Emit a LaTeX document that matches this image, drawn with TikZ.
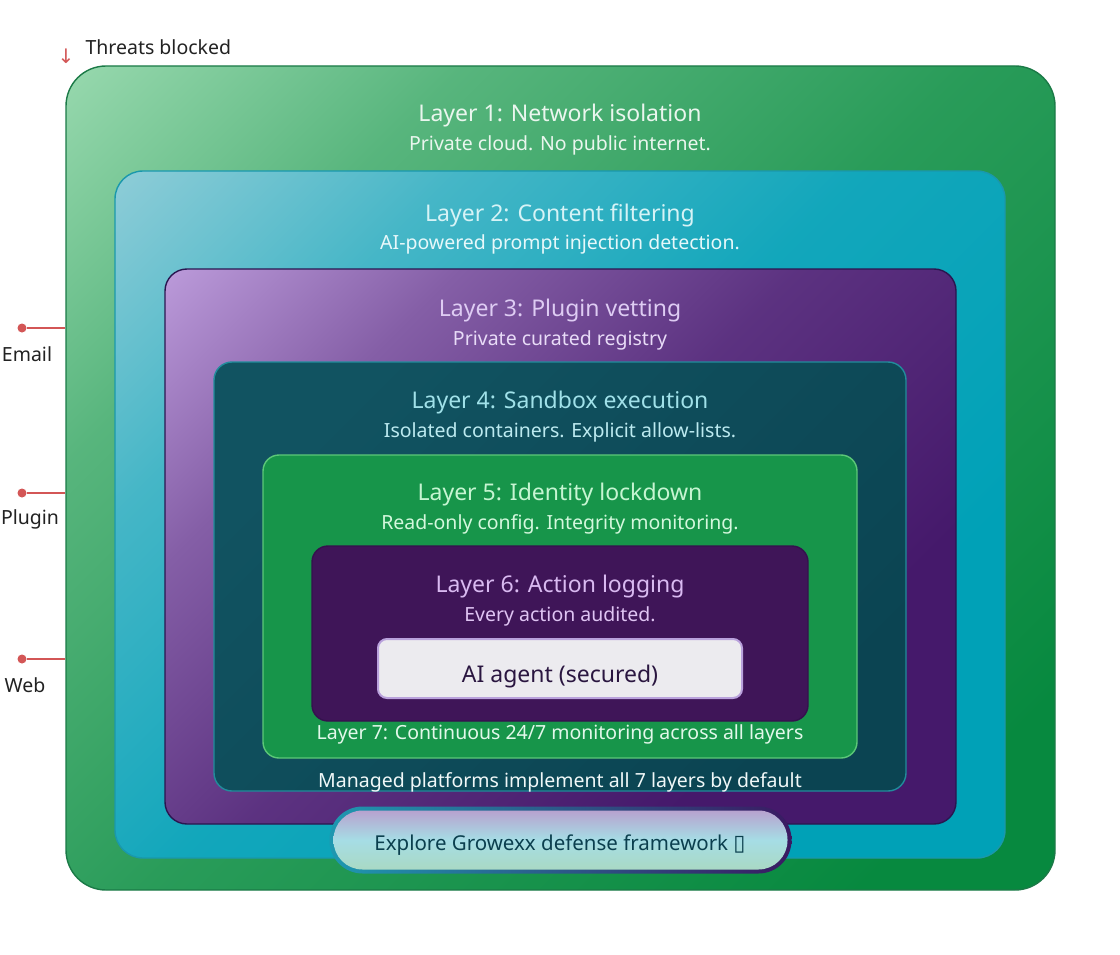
\documentclass[tikz,border=0pt]{standalone}
\usepackage{fontspec}
\setmainfont{Noto Sans}
\newfontfamily\symfont{DejaVu Sans}
\usetikzlibrary{shapes.misc}
\definecolor{lOneA}{HTML}{A2DEB6}
\definecolor{lOneB}{HTML}{07893F}
\definecolor{lOneD}{HTML}{1B7A47}
\definecolor{lTwoA}{HTML}{9AD0DA}
\definecolor{lTwoB}{HTML}{00A1B7}
\definecolor{lTwoD}{HTML}{1A98AC}
\definecolor{lThrA}{HTML}{C4A4E2}
\definecolor{lThrB}{HTML}{45196B}
\definecolor{lThrD}{HTML}{2A1650}
\definecolor{lFouA}{HTML}{115361}
\definecolor{lFouB}{HTML}{0B4452}
\definecolor{lFouD}{HTML}{218C9C}
\definecolor{lFivF}{HTML}{17954A}
\definecolor{lFivD}{HTML}{5CC878}
\definecolor{lSixF}{HTML}{3F1558}
\definecolor{lSixD}{HTML}{35114E}
\definecolor{agF}{HTML}{ECEBEF}
\definecolor{agD}{HTML}{B9A1DC}
\definecolor{agT}{HTML}{2A1640}
\definecolor{btTop}{HTML}{B7A2CF}
\definecolor{btMid}{HTML}{A6DDE5}
\definecolor{btBot}{HTML}{A9D9C4}
\definecolor{btL}{HTML}{1E98B0}
\definecolor{btR}{HTML}{3A1A62}
\definecolor{btT}{HTML}{0B3F4E}
\definecolor{redc}{HTML}{D35656}
\definecolor{darkT}{HTML}{222222}
\definecolor{tOne}{HTML}{EAF6EE}
\definecolor{tTwo}{HTML}{D6F3F6}
\definecolor{tThr}{HTML}{DECCF3}
\definecolor{tFou}{HTML}{A0E1E9}
\definecolor{tFiv}{HTML}{C6F5D2}
\definecolor{tSix}{HTML}{D9BAF1}
\definecolor{tSev}{HTML}{E2F8EA}
\definecolor{tMan}{HTML}{F0F8F8}
\pgfdeclareverticalshading{shOne}{100bp}{color(0bp)=(lOneB); color(22bp)=(lOneB); color(50bp)=(lOneB!78!lOneA); color(70bp)=(lOneB!48!lOneA); color(88bp)=(lOneA); color(100bp)=(lOneA)}
\pgfdeclareverticalshading{shTwo}{100bp}{color(0bp)=(lTwoB); color(30bp)=(lTwoB); color(52bp)=(lTwoB!88!lTwoA); color(70bp)=(lTwoB!55!lTwoA); color(88bp)=(lTwoA); color(100bp)=(lTwoA)}
\pgfdeclareverticalshading{shThr}{100bp}{color(0bp)=(lThrB); color(30bp)=(lThrB); color(52bp)=(lThrB!82!lThrA); color(70bp)=(lThrB!50!lThrA); color(88bp)=(lThrA); color(100bp)=(lThrA)}
\tikzset{
  layerbox/.style={rectangle, inner sep=0pt, line width=1.4pt},
  ttl/.style={font=\fontsize{23}{26}\selectfont},
  sub/.style={font=\fontsize{19.5}{22}\selectfont},
  side/.style={font=\fontsize{19.5}{22}\selectfont, text=darkT},
  reddot/.style={circle, fill=redc, inner sep=0pt, minimum size=9pt},
  redline/.style={draw=redc, line width=1.4pt},
}
\begin{document}
\begin{tikzpicture}[x=1pt,y=-1pt]
\useasboundingbox (0,0) rectangle (1120,955);
\fill[white] (0,0) rectangle (1120,955);
% layers
\node[layerbox, draw=lOneD, shading=shOne, shading angle=45,
  rounded corners=40pt, minimum width=989pt, minimum height=824pt] (L1) at (560.5,478) {};
\node[layerbox, draw=lTwoD, shading=shTwo, shading angle=45,
  rounded corners=28pt, minimum width=890pt, minimum height=687pt] (L2) at (560,514.5) {};
\node[layerbox, draw=lThrD, shading=shThr, shading angle=45,
  rounded corners=22pt, minimum width=791pt, minimum height=555pt] (L3) at (560.5,546.5) {};
\node[layerbox, draw=lFouD, top color=lFouA, bottom color=lFouB, shading angle=45,
  rounded corners=18pt, minimum width=692pt, minimum height=429pt] (L4) at (560,576.5) {};
\node[layerbox, draw=lFivD, fill=lFivF,
  rounded corners=16pt, minimum width=594pt, minimum height=303pt] (L5) at (560,606.5) {};
\node[layerbox, draw=lSixD, fill=lSixF,
  rounded corners=16pt, minimum width=496pt, minimum height=175pt] (L6) at (560,633.5) {};
\node[layerbox, draw=agD, fill=agF, line width=2pt,
  rounded corners=9pt, minimum width=364pt, minimum height=59pt] (AG) at (560,668.5) {};
\node[font=\fontsize{23}{26}\selectfont, text=agT] (agt) at (560,677) {AI agent (secured)};
% button
\node[layerbox, left color=btL, right color=btR,
  rounded corners=33pt, minimum width=462pt, minimum height=67pt] (BT) at (560.5,840) {};
\node[layerbox, top color=btTop, bottom color=btBot, middle color=btMid,
  rounded corners=29pt, minimum width=454pt, minimum height=59pt] (BTi) at (BT.center) {};
\node[font=\fontsize{20.5}{24}\selectfont, text=btT] (btt) at (560,845)
  {Explore Growexx defense framework {\symfont\fontsize{22}{24}\selectfont ▯}};
% titles
\node[ttl, text=tOne] (t1) at (560,116) {Layer 1: Network isolation};
\node[sub, text=tOne] (s1) at (560,145) {Private cloud. No public internet.};
\node[ttl, text=tTwo] (t2) at (560,215) {Layer 2: Content filtering};
\node[sub, text=tTwo!60!white] (s2) at (560,244) {AI-powered prompt injection detection.};
\node[ttl, text=tThr] (t3) at (560,311) {Layer 3: Plugin vetting};
\node[sub, text=tThr!70!white] (s3) at (560,340) {Private curated registry};
\node[ttl, text=tFou] (t4) at (560,403) {Layer 4: Sandbox execution};
\node[sub, text=tFou!70!white] (s4) at (560,432) {Isolated containers. Explicit allow-lists.};
\node[ttl, text=tFiv] (t5) at (560,495) {Layer 5: Identity lockdown};
\node[sub, text=tFiv!75!white] (s5) at (560,524) {Read-only config. Integrity monitoring.};
\node[ttl, text=tSix] (t6) at (560,587) {Layer 6: Action logging};
\node[sub, text=tSix!85!white] (s6) at (560,616) {Every action audited.};
\node[sub, text=tSev] (t7) at (560,734) {Layer 7: Continuous 24/7 monitoring across all layers};
\node[sub, text=tMan] (mp) at (560,782) {Managed platforms implement all 7 layers by default};
% threats
\node[side, anchor=west] (th) at (82,47) {Threats blocked};
\node[text=redc, font=\symfont\fontsize{20}{22}\selectfont] (ar) at (66,56) {↓};
% side markers
\node[reddot] (dE) at (22,328) {};
\node[reddot] (dP) at (22,493) {};
\node[reddot] (dW) at (22,659) {};
\draw[redline] (dE) -- (dE -| L1.west);
\draw[redline] (dP) -- (dP -| L1.west);
\draw[redline] (dW) -- (dW -| L1.west);
\node[side] (lE) at (27,354) {Email};
\node[side] (lP) at (30,519) {Plugin};
\node[side] (lW) at (25,685) {Web};
\end{tikzpicture}
\end{document}
